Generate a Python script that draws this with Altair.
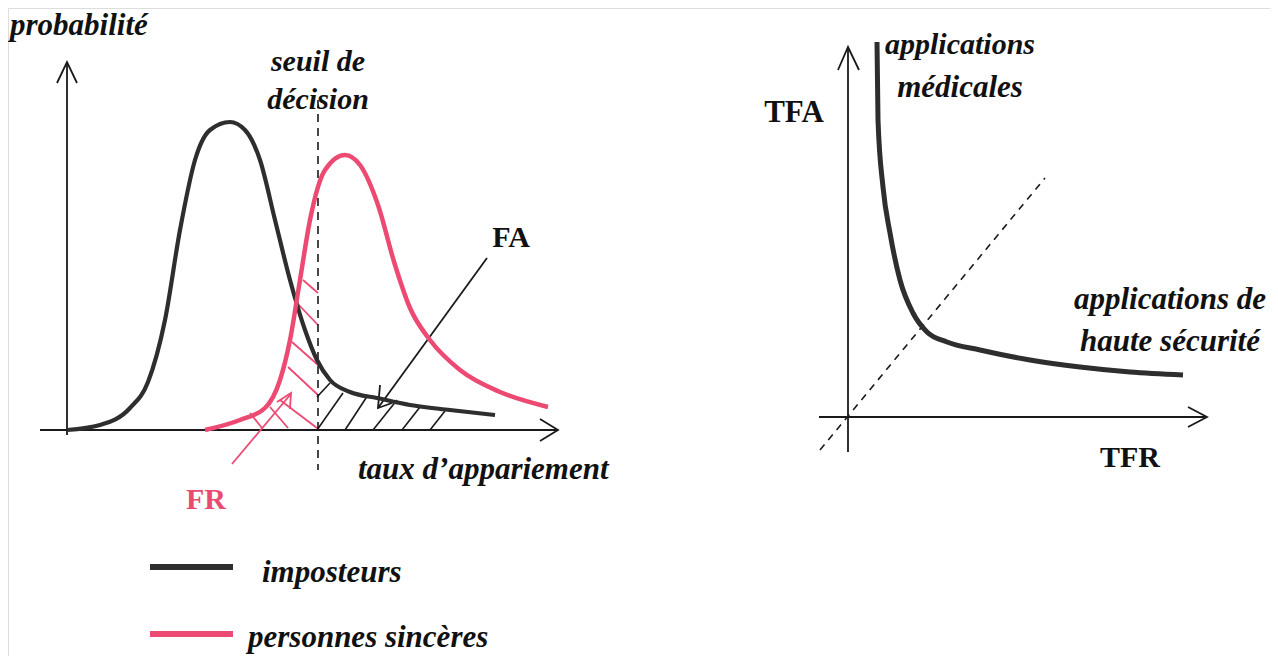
import altair as alt
import pandas as pd

# ---------------- data (diagram units = reference pixels) -------------
# left panel: density curves
imposteurs_x = [67, 100, 130, 148, 165, 180, 195, 210, 230, 245, 260, 275, 290, 305, 317, 330, 350, 377, 410, 450, 495]
imposteurs_y = [430, 425, 408, 382, 320, 230, 160, 130, 122, 130, 160, 220, 280, 330, 360, 380, 392, 398, 405, 410, 415]
sinceres_x = [205, 240, 265, 280, 290, 300, 310, 325, 345, 360, 378, 395, 410, 430, 460, 500, 548]
sinceres_y = [430, 420, 408, 380, 340, 280, 220, 170, 155, 165, 205, 265, 308, 340, 370, 392, 407]

# hatching: false acceptance (black) and false rejection (pink)
fa_hatch_x1 = [317, 317, 345, 373, 402, 430]
fa_hatch_y1 = [397, 430, 430, 430, 430, 430]
fa_hatch_x2 = [330, 343, 368, 397, 420, 445]
fa_hatch_y2 = [383, 393, 395, 400, 407, 411]
fr_hatch_x1 = [303, 297, 292, 288, 280, 270, 250]
fr_hatch_y1 = [280, 303, 342, 367, 400, 407, 413]
fr_hatch_x2 = [318, 318, 318, 318, 317, 288, 262]
fr_hatch_y2 = [293, 325, 365, 395, 428, 428, 428]

# right panel: ROC-like curve and equal-error diagonal
roc_x = [877, 878, 883, 890, 900, 913, 927, 947, 980, 1030, 1080, 1130, 1183]
roc_y = [42, 120, 187, 233, 280, 313, 332, 342, 350, 360, 367, 372, 375]
diag_x = [820, 1045]
diag_y = [450, 178]

# axes, arrows (polylines: id, x, y)
axes_id = ["ly", "ly", "lyh", "lyh", "lyh", "lx", "lx", "lxh", "lxh", "lxh",
           "ry", "ry", "ryh", "ryh", "ryh", "rx", "rx", "rxh", "rxh", "rxh",
           "fa", "fa", "fah", "fah", "fah"]
axes_x = [67, 67, 57, 67, 77, 40, 558, 540, 558, 540,
          848, 848, 838, 848, 859, 819, 1207, 1188, 1207, 1188,
          487, 378, 380, 378, 392]
axes_y = [435, 62, 83, 62, 83, 430, 430, 419, 430, 441,
          452, 47, 70, 47, 70, 417, 417, 407, 417, 427,
          258, 408, 385, 408, 403]
fr_arrow_id = ["s", "s", "h", "h", "h"]
fr_arrow_x = [232, 290, 277, 291, 290]
fr_arrow_y = [464, 395, 402, 393, 409]

threshold_x = [318, 318]
threshold_y = [100, 470]

# legend
legend_series = ["imposteurs", "personnes sincères"]
legend_y = [567, 634]
legend_x1 = [150, 150]
legend_x2 = [233, 233]

# texts
texts = [
    # text, x, y, size, weight, style, color, align
    ("probabilité", 10, 26, 31, "bold", "italic", "#111111", "left"),
    ("seuil de", 318, 62, 30, "bold", "italic", "#111111", "center"),
    ("décision", 318, 100, 30, "bold", "italic", "#111111", "center"),
    ("FA", 511, 238, 30, "bold", "normal", "#111111", "center"),
    ("taux d’appariement", 358, 470, 31, "bold", "italic", "#111111", "left"),
    ("FR", 206, 500, 30, "bold", "normal", "#ea4a72", "center"),
    ("imposteurs", 262, 573, 31, "bold", "italic", "#111111", "left"),
    ("personnes sincères", 248, 638, 31, "bold", "italic", "#111111", "left"),
    ("applications", 885, 45, 30, "bold", "italic", "#111111", "left"),
    ("médicales", 960, 88, 31, "bold", "italic", "#111111", "center"),
    ("TFA", 794, 113, 31, "bold", "normal", "#111111", "center"),
    ("TFR", 1130, 458, 30, "bold", "normal", "#111111", "center"),
    ("applications de", 1170, 300, 31, "bold", "italic", "#111111", "center"),
    ("haute sécurité", 1170, 342, 31, "bold", "italic", "#111111", "center"),
]

BLACK = "#2e2e2e"
PINK = "#ec4a72"

# ---------------- scales -------------
W, H = 1262, 648
xs = alt.Scale(domain=[8, 8 + W], nice=False, zero=False)
ys = alt.Scale(domain=[8, 8 + H], nice=False, zero=False, reverse=True)
X = lambda f="x": alt.X(f"{f}:Q", scale=xs, axis=None)
Y = lambda f="y": alt.Y(f"{f}:Q", scale=ys, axis=None)


def poly(xv, yv, ids=None):
    n = len(xv)
    return pd.DataFrame({"x": xv, "y": yv, "o": list(range(n)),
                         "id": ids if ids is not None else ["a"] * n})


def segs(x1, y1, x2, y2):
    return pd.DataFrame({"x": x1, "y": y1, "x2": x2, "y2": y2})


layers = []

# hatching
layers.append(alt.Chart(segs(fa_hatch_x1, fa_hatch_y1, fa_hatch_x2, fa_hatch_y2)).mark_rule(
    color="#1a1a1a", strokeWidth=1.6).encode(x=X(), y=Y(), x2="x2:Q", y2="y2:Q"))
layers.append(alt.Chart(segs(fr_hatch_x1, fr_hatch_y1, fr_hatch_x2, fr_hatch_y2)).mark_rule(
    color=PINK, strokeWidth=1.8).encode(x=X(), y=Y(), x2="x2:Q", y2="y2:Q"))

# axes and FA arrow
layers.append(alt.Chart(poly(axes_x, axes_y, axes_id)).mark_line(
    color="#1a1a1a", strokeWidth=1.8, strokeJoin="miter").encode(
    x=X(), y=Y(), detail="id:N", order="o:Q"))

# threshold
layers.append(alt.Chart(poly(threshold_x, threshold_y)).mark_line(
    color="#1a1a1a", strokeWidth=1.6, strokeDash=[8, 6]).encode(x=X(), y=Y(), order="o:Q"))

# diagonal
layers.append(alt.Chart(poly(diag_x, diag_y)).mark_line(
    color="#1a1a1a", strokeWidth=1.6, strokeDash=[7, 6]).encode(x=X(), y=Y(), order="o:Q"))

# curves
layers.append(alt.Chart(poly(imposteurs_x, imposteurs_y)).mark_line(
    color=BLACK, strokeWidth=4.2, interpolate="monotone").encode(x=X(), y=Y(), order="o:Q"))
layers.append(alt.Chart(poly(sinceres_x, sinceres_y)).mark_line(
    color=PINK, strokeWidth=4.5, interpolate="monotone").encode(x=X(), y=Y(), order="o:Q"))
layers.append(alt.Chart(poly(roc_x, roc_y)).mark_line(
    color=BLACK, strokeWidth=5, interpolate="monotone").encode(x=X(), y=Y(), order="o:Q"))

# FR arrow
layers.append(alt.Chart(poly(fr_arrow_x, fr_arrow_y, fr_arrow_id)).mark_line(
    color=PINK, strokeWidth=1.8).encode(x=X(), y=Y(), detail="id:N", order="o:Q"))

# legend swatches
leg = pd.DataFrame({"s": legend_series, "x": legend_x1, "x2": legend_x2, "y": legend_y})
layers.append(alt.Chart(leg).mark_rule(strokeWidth=6).encode(
    x=X(), x2="x2:Q", y=Y(),
    color=alt.Color("s:N", scale=alt.Scale(domain=legend_series, range=[BLACK, PINK]), legend=None)))

# texts
for t, tx, ty, size, weight, style, col, align in texts:
    layers.append(alt.Chart(pd.DataFrame({"t": [t], "x": [tx], "y": [ty]})).mark_text(
        font="Liberation Serif", fontSize=size, fontWeight=weight, fontStyle=style,
        color=col, align=align, baseline="middle").encode(x=X(), y=Y(), text="t:N"))

chart = alt.layer(*layers).properties(width=W, height=H, padding=0, autosize="none").configure_view(
    stroke=None).configure(background="white")

chart.save("out.html", embed_options={"renderer": "svg", "actions": False})
